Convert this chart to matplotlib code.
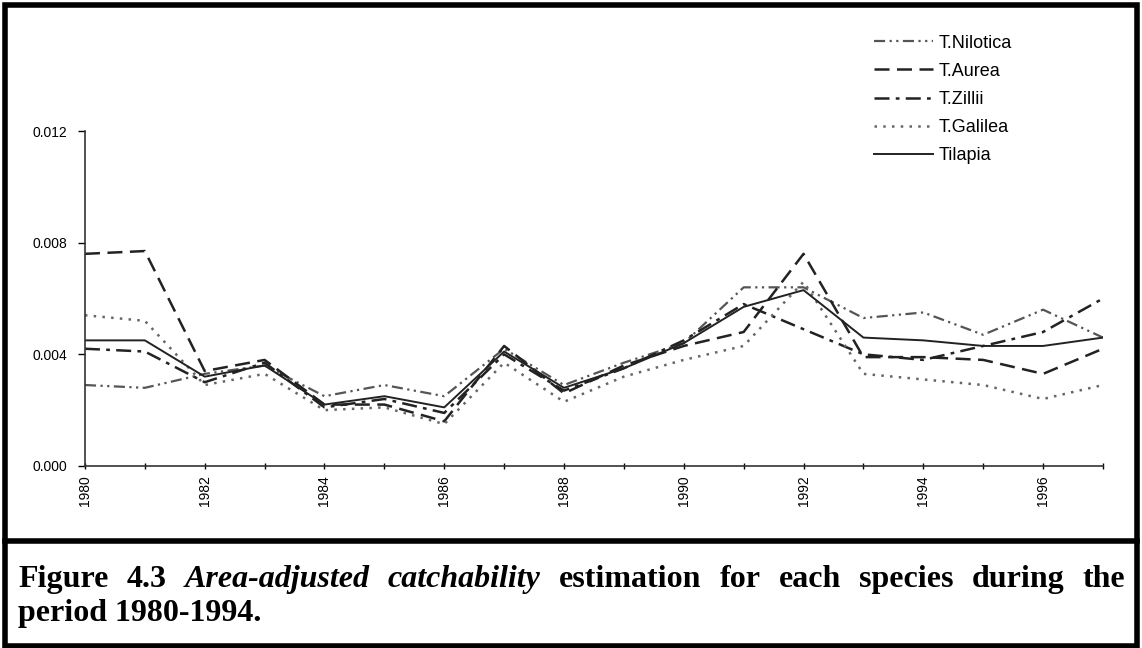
import matplotlib
matplotlib.use("Agg")
import matplotlib.pyplot as plt
from matplotlib.lines import Line2D
from matplotlib.patches import Rectangle

# catchability series, 1980-1997
years = list(range(1980, 1998))
nilotica = [0.0029, 0.0028, 0.0033, 0.0036, 0.0025, 0.0029, 0.0025, 0.0042, 0.0029,
            0.0037, 0.0044, 0.0064, 0.0064, 0.0053, 0.0055, 0.0047, 0.0056, 0.0046]
aurea = [0.0076, 0.0077, 0.0034, 0.0038, 0.0022, 0.0022, 0.0016, 0.0043, 0.0026,
         0.0036, 0.0043, 0.0048, 0.0076, 0.0039, 0.0039, 0.0038, 0.0033, 0.0042]
zillii = [0.0042, 0.0041, 0.0030, 0.0037, 0.0021, 0.0024, 0.0019, 0.0040, 0.0027,
          0.0035, 0.0045, 0.0058, 0.0049, 0.0040, 0.0038, 0.0043, 0.0048, 0.0060]
galilea = [0.0054, 0.0052, 0.0029, 0.0033, 0.0020, 0.0021, 0.0015, 0.0037, 0.0023,
           0.0032, 0.0038, 0.0043, 0.0066, 0.0033, 0.0031, 0.0029, 0.0024, 0.0029]
tilapia = [0.0045, 0.0045, 0.0032, 0.0036, 0.0022, 0.0025, 0.0021, 0.0041, 0.0028,
           0.0035, 0.0044, 0.0057, 0.0063, 0.0046, 0.0045, 0.0043, 0.0043, 0.0046]

names = ["T.Nilotica", "T.Aurea", "T.Zillii", "T.Galilea", "Tilapia"]
yticks = [0.0, 0.004, 0.008, 0.012]
xticklabels = [str(y) for y in range(1980, 1998, 2)]

plt.rcParams['font.family'] = ['Liberation Sans', 'DejaVu Sans']

fig = plt.figure(figsize=(11.42, 6.48), dpi=100)
ax = fig.add_axes([0.0744, 0.2809, 0.8914, 0.5169])

ax.plot(years, nilotica, color="#555555", lw=1.6, ls=(0, (5, 2, 1, 2, 1, 2)), label=names[0])
ax.plot(years, aurea, color="#222222", lw=1.8, ls=(0, (6, 3)), label=names[1])
ax.plot(years, zillii, color="#222222", lw=1.8, ls=(0, (6, 2.5, 1.5, 2.5)), label=names[2])
ax.plot(years, galilea, color="#666666", lw=1.8, ls=(0, (1, 2.5)), label=names[3])
ax.plot(years, tilapia, color="#222222", lw=1.4, ls="-", label=names[4])

ax.set_xlim(1980, 1997)
ax.set_ylim(0, 0.012)
ax.set_yticks(yticks)
ax.set_yticklabels([f"{v:.3f}" for v in yticks], fontsize=10)
ax.set_xticks(years, minor=True)
ax.set_xticks(range(1980, 1998, 2))
ax.set_xticklabels(xticklabels, rotation=90, fontsize=10)
ax.tick_params(axis='y', direction='out', length=5, width=1, pad=8)
ax.tick_params(axis='x', which='both', direction='inout', length=5, width=1, pad=4)
for s in ("top", "right"):
    ax.spines[s].set_visible(False)
for s in ("left", "bottom"):
    ax.spines[s].set_linewidth(1.2)
    ax.spines[s].set_color("#333333")

leg = ax.legend(loc="upper left", bbox_to_anchor=(0.766, 1.315), frameon=False,
                fontsize=13, handlelength=3.3, handletextpad=0.3,
                labelspacing=0.62, borderpad=0)

# outer frame and divider above the caption
fig.add_artist(Rectangle((0.004, 0.003), 0.992, 0.99, transform=fig.transFigure,
                         fill=False, lw=4, ec="black"))
fig.add_artist(Line2D([0.004, 0.996], [1 - 541 / 648] * 2, transform=fig.transFigure,
                      color="black", lw=4))

# justified caption, first line spread between the margins
serif = ['Liberation Serif', 'DejaVu Serif']
cap_size = 23
words = [("Figure", "normal"), ("4.3", "normal"), ("Area-adjusted", "italic"),
         ("catchability", "italic"), ("estimation", "normal"), ("for", "normal"),
         ("each", "normal"), ("species", "normal"), ("during", "normal"), ("the", "normal")]
renderer = fig.canvas.get_renderer()
x0, x1 = 18 / 1142, 1125 / 1142
y1 = 1 - 587 / 648
texts = []
for w, st in words:
    t = fig.text(0, y1, w, family=serif, style=st, weight="bold", fontsize=cap_size,
                 va="baseline", ha="left")
    texts.append(t)
widths = [t.get_window_extent(renderer).width / fig.bbox.width for t in texts]
gap = (x1 - x0 - sum(widths)) / (len(words) - 1)
x = x0
for t, w in zip(texts, widths):
    t.set_x(x)
    x += w + gap
fig.text(x0, 1 - 621 / 648, "period 1980-1994.", family=serif, weight="bold",
         fontsize=cap_size, va="baseline", ha="left")

fig.savefig("out.png", dpi=100)
